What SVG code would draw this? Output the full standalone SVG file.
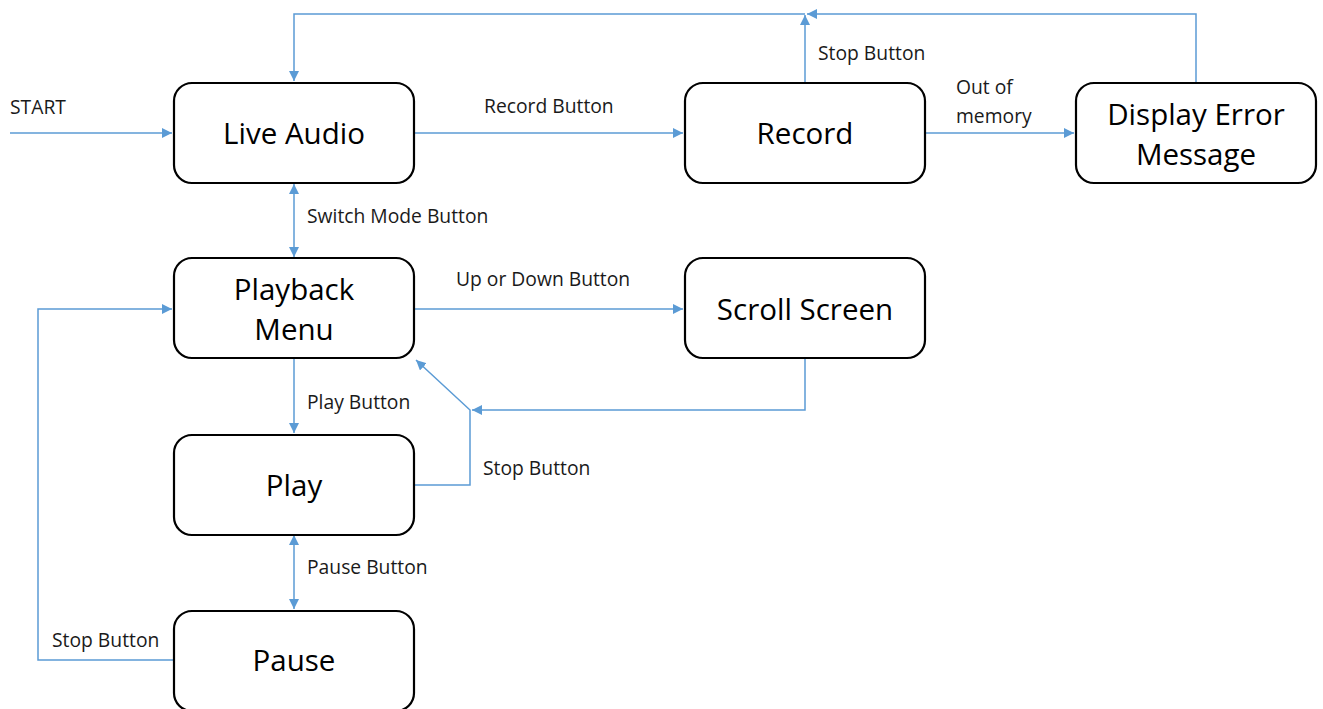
<svg xmlns="http://www.w3.org/2000/svg" width="1323" height="709" viewBox="0 0 1323 709">
<style>
.box{fill:#fff;stroke:#000;stroke-width:2.2}
.t{font-family:"Open Sans","Noto Sans",sans-serif;font-size:29.5px;fill:#000;text-anchor:middle}
.l{font-family:"Open Sans","Noto Sans",sans-serif;font-size:19.3px;fill:#1a1a1a}
.c{fill:none;stroke:#5B9BD5;stroke-width:1.5}
</style>
<defs>
<marker id="a" viewBox="0 0 10 10" refX="10" refY="5" markerWidth="10" markerHeight="10" markerUnits="userSpaceOnUse" orient="auto-start-reverse">
<path d="M0,0 L10,5 L0,10 z" fill="#5B9BD5"/>
</marker>
</defs>
<rect width="1323" height="709" fill="#fff"/>
<g id="connectors">
<path class="c" d="M10,133 H172" marker-end="url(#a)"/>
<path class="c" d="M414,133 H683" marker-end="url(#a)"/>
<path class="c" d="M925,133 H1074" marker-end="url(#a)"/>
<path class="c" d="M1196,82 V14 H807" marker-end="url(#a)"/>
<path class="c" d="M805,82 V15" marker-end="url(#a)"/>
<path class="c" d="M805,14 H294 V81" marker-end="url(#a)"/>
<path class="c" d="M294,184 V257" marker-start="url(#a)" marker-end="url(#a)"/>
<path class="c" d="M414,309 H683" marker-end="url(#a)"/>
<path class="c" d="M805,358 V410 H472" marker-end="url(#a)"/>
<path class="c" d="M414,485 H470 V410 L416,360" marker-end="url(#a)"/>
<path class="c" d="M294,358 V433" marker-end="url(#a)"/>
<path class="c" d="M294,535 V609" marker-start="url(#a)" marker-end="url(#a)"/>
<path class="c" d="M173,660 H38 V309 H172" marker-end="url(#a)"/>
</g>
<g id="labels">
<text class="l" x="10" y="114">START</text>
<text class="l" x="484" y="113">Record Button</text>
<text class="l" x="818" y="60">Stop Button</text>
<text class="l" x="956" y="94">Out of</text>
<text class="l" x="956" y="123">memory</text>
<text class="l" x="307" y="223">Switch Mode Button</text>
<text class="l" x="456" y="286">Up or Down Button</text>
<text class="l" x="307" y="409">Play Button</text>
<text class="l" x="483" y="475">Stop Button</text>
<text class="l" x="307" y="574">Pause Button</text>
<text class="l" x="52" y="647">Stop Button</text>
</g>
<g id="live-audio"><rect class="box" x="174" y="83" width="240" height="100" rx="18"/><text class="t" x="294" y="144">Live Audio</text></g>
<g id="record"><rect class="box" x="685" y="83" width="240" height="100" rx="18"/><text class="t" x="805" y="144">Record</text></g>
<g id="display-error"><rect class="box" x="1076" y="83" width="240" height="100" rx="18"/><text class="t" x="1196" y="125">Display Error</text><text class="t" x="1196" y="165">Message</text></g>
<g id="playback-menu"><rect class="box" x="174" y="258" width="240" height="100" rx="18"/><text class="t" x="294" y="300">Playback</text><text class="t" x="294" y="340">Menu</text></g>
<g id="scroll-screen"><rect class="box" x="685" y="258" width="240" height="100" rx="18"/><text class="t" x="805" y="320">Scroll Screen</text></g>
<g id="play"><rect class="box" x="174" y="435" width="240" height="100" rx="18"/><text class="t" x="294" y="496">Play</text></g>
<g id="pause"><rect class="box" x="174" y="611" width="240" height="100" rx="18"/><text class="t" x="294" y="671">Pause</text></g>
</svg>
